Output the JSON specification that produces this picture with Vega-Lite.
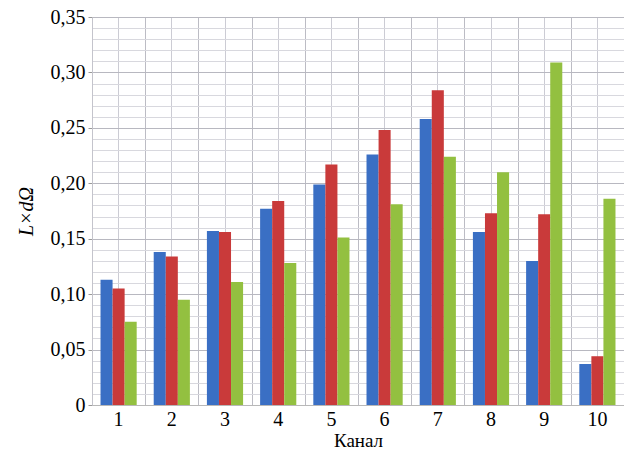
{
  "$schema": "https://vega.github.io/schema/vega-lite/v6.json",
  "width": 532,
  "height": 388,
  "autosize": {"type": "none"},
  "padding": {"left": 92, "top": 17, "right": 0, "bottom": 52},
  "background": "white",
  "config": {
    "view": {"stroke": null},
    "font": "Liberation Serif",
    "axis": {"labelFont": "Liberation Serif", "titleFont": "Liberation Serif", "labelColor": "#000", "titleColor": "#000", "titleFontWeight": "normal"}
  },
  "data": {
    "values": [
      {"channel": "1", "series": "A", "value": 0.113},
      {"channel": "1", "series": "B", "value": 0.105},
      {"channel": "1", "series": "C", "value": 0.075},
      {"channel": "2", "series": "A", "value": 0.138},
      {"channel": "2", "series": "B", "value": 0.134},
      {"channel": "2", "series": "C", "value": 0.095},
      {"channel": "3", "series": "A", "value": 0.157},
      {"channel": "3", "series": "B", "value": 0.156},
      {"channel": "3", "series": "C", "value": 0.111},
      {"channel": "4", "series": "A", "value": 0.177},
      {"channel": "4", "series": "B", "value": 0.184},
      {"channel": "4", "series": "C", "value": 0.128},
      {"channel": "5", "series": "A", "value": 0.199},
      {"channel": "5", "series": "B", "value": 0.217},
      {"channel": "5", "series": "C", "value": 0.151},
      {"channel": "6", "series": "A", "value": 0.226},
      {"channel": "6", "series": "B", "value": 0.248},
      {"channel": "6", "series": "C", "value": 0.181},
      {"channel": "7", "series": "A", "value": 0.258},
      {"channel": "7", "series": "B", "value": 0.284},
      {"channel": "7", "series": "C", "value": 0.224},
      {"channel": "8", "series": "A", "value": 0.156},
      {"channel": "8", "series": "B", "value": 0.173},
      {"channel": "8", "series": "C", "value": 0.210},
      {"channel": "9", "series": "A", "value": 0.130},
      {"channel": "9", "series": "B", "value": 0.172},
      {"channel": "9", "series": "C", "value": 0.309},
      {"channel": "10", "series": "A", "value": 0.037},
      {"channel": "10", "series": "B", "value": 0.044},
      {"channel": "10", "series": "C", "value": 0.186}
    ]
  },
  "resolve": {"axis": {"x": "independent", "y": "shared"}, "scale": {"x": "shared", "y": "shared"}},
  "layer": [
    {
      "mark": {"type": "bar", "opacity": 0},
      "encoding": {
        "x": {
          "field": "channel", "type": "ordinal", "sort": null,
          "scale": {"paddingInner": 0, "paddingOuter": 0},
          "axis": {"orient": "top", "title": null, "labels": false, "ticks": false, "domain": false, "grid": true, "tickBand": "extent", "gridColor": "#bcbcc4", "gridWidth": 1}
        },
        "xOffset": {"field": "series", "type": "nominal", "scale": {"paddingInner": 0, "paddingOuter": 0.706}},
        "y": {
          "field": "value", "type": "quantitative",
          "scale": {"domain": [0, 0.35], "nice": false},
          "axis": {
            "title": "L×dΩ", "titleFont": "Liberation Serif", "titleFontSize": 20, "titleFontStyle": "italic", "titleFontWeight": "normal", "titlePadding": 14,
            "labelFont": "Liberation Serif", "labelFontSize": 20, "labelPadding": 3, "labelOverlap": false,
            "tickSize": 4, "domain": true, "domainColor": "#c4c4cc", "grid": true, "gridWidth": 1,
            "values": [0,0.01,0.02,0.03,0.04,0.05,0.06,0.07,0.08,0.09,0.1,0.11,0.12,0.13,0.14,0.15,0.16,0.17,0.18,0.19,0.2,0.21,0.22,0.23,0.24,0.25,0.26,0.27,0.28,0.29,0.3,0.31,0.32,0.33,0.34,0.35],
            "labelExpr": "round(datum.value*100) % 5 != 0 ? '' : (datum.value == 0 ? '0' : replace(format(datum.value, '.2f'), '.', ','))",
            "tickColor": {"condition": {"test": "round(datum.value*100) % 5 == 0", "value": "#999999"}, "value": "rgba(0,0,0,0)"},
            "gridColor": {"condition": {"test": "round(datum.value*100) % 5 == 0", "value": "#b8b8c0"}, "value": "#d8d8de"}
          }
        }
      }
    },
    {
      "mark": {"type": "bar"},
      "encoding": {
        "x": {
          "field": "channel", "type": "ordinal", "sort": null,
          "axis": {
            "orient": "bottom", "title": "Канал", "labelAngle": 0, "labelFontSize": 20, "titleFontSize": 19,
            "labelFont": "Liberation Serif", "titleFont": "Liberation Serif",
            "ticks": false, "labelPadding": 4, "titlePadding": 2,
            "domain": true, "domainColor": "#b8b8b8",
            "grid": true, "gridColor": "#ccccd4", "gridWidth": 1
          }
        },
        "xOffset": {"field": "series", "type": "nominal"},
        "y": {
          "field": "value", "type": "quantitative",
          "scale": {"domain": [0, 0.35], "nice": false},
          "axis": {
            "title": "L×dΩ", "titleFont": "Liberation Serif", "titleFontSize": 20, "titleFontStyle": "italic", "titleFontWeight": "normal", "titlePadding": 14,
            "labelFont": "Liberation Serif", "labelFontSize": 20, "labelPadding": 3, "labelOverlap": false,
            "tickSize": 4, "domain": true, "domainColor": "#c4c4cc", "grid": true, "gridWidth": 1,
            "values": [0,0.01,0.02,0.03,0.04,0.05,0.06,0.07,0.08,0.09,0.1,0.11,0.12,0.13,0.14,0.15,0.16,0.17,0.18,0.19,0.2,0.21,0.22,0.23,0.24,0.25,0.26,0.27,0.28,0.29,0.3,0.31,0.32,0.33,0.34,0.35],
            "labelExpr": "round(datum.value*100) % 5 != 0 ? '' : (datum.value == 0 ? '0' : replace(format(datum.value, '.2f'), '.', ','))",
            "tickColor": {"condition": {"test": "round(datum.value*100) % 5 == 0", "value": "#999999"}, "value": "rgba(0,0,0,0)"},
            "gridColor": {"condition": {"test": "round(datum.value*100) % 5 == 0", "value": "#b8b8c0"}, "value": "#d8d8de"}
          }
        },
        "color": {
          "field": "series", "type": "nominal",
          "scale": {"domain": ["A", "B", "C"], "range": ["#3a6fc4", "#c93a3a", "#93c040"]},
          "legend": null
        }
      }
    }
  ]
}
